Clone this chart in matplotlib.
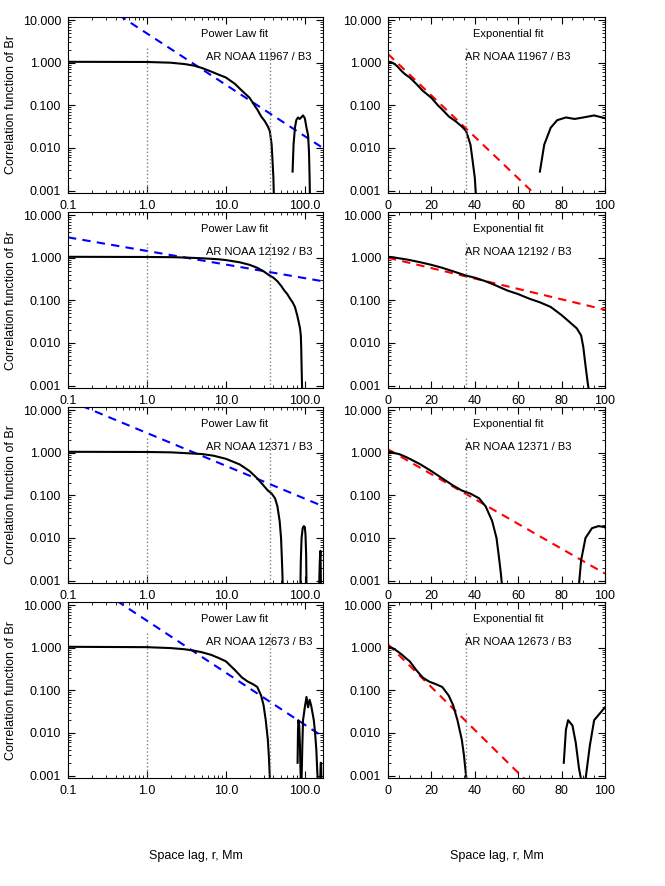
import numpy as np
import matplotlib
matplotlib.use("Agg")
from matplotlib import pyplot as plt
from matplotlib.ticker import FixedLocator, NullFormatter

# correlation function segments (r in Mm, C)
ar_names = ["11967", "12192", "12371", "12673"]

r1a = [0.1, 1, 2, 3, 4, 5, 6.5, 8, 10, 13, 16, 20, 23, 25, 28, 31, 34, 36, 38, 39, 40, 40.5]
c1a = [1.05, 1.04, 1.0, 0.93, 0.85, 0.75, 0.62, 0.53, 0.45, 0.32, 0.22, 0.15, 0.1, 0.08, 0.055, 0.043, 0.032, 0.025, 0.012, 0.005, 0.002, 0.0008]
r1b = [70, 72, 75, 78, 82, 86, 90, 95, 100, 105, 110, 113, 115, 116]
c1b = [0.0028, 0.012, 0.03, 0.045, 0.052, 0.048, 0.052, 0.058, 0.05, 0.03, 0.02, 0.008, 0.002, 0.0008]

r2a = [0.1, 1, 2, 3, 5, 8, 10, 15, 20, 25, 30, 36, 40, 45, 50, 55, 60, 65, 70, 75, 80, 84, 87, 89, 90, 91, 92, 92.5]
c2a = [1.05, 1.04, 1.03, 1.01, 0.97, 0.92, 0.88, 0.78, 0.68, 0.58, 0.48, 0.38, 0.34, 0.28, 0.22, 0.17, 0.14, 0.11, 0.09, 0.07, 0.045, 0.03, 0.022, 0.015, 0.008, 0.003, 0.0012, 0.0008]

r3a = [0.1, 1, 2, 3, 5, 7, 10, 15, 20, 25, 30, 34, 38, 42, 45, 48, 50, 51, 52, 52.5]
c3a = [1.05, 1.04, 1.02, 0.98, 0.93, 0.85, 0.72, 0.53, 0.37, 0.25, 0.17, 0.13, 0.11, 0.085, 0.055, 0.025, 0.01, 0.004, 0.0015, 0.0008]
r3b = [88, 89, 91, 94, 97, 100, 102, 104, 105]
c3b = [0.0008, 0.003, 0.01, 0.017, 0.019, 0.018, 0.012, 0.004, 0.0008]
r3c = [152, 155, 158, 160]
c3c = [0.0008, 0.003, 0.005, 0.0008]

r4a = [0.1, 1, 2, 3, 4, 5, 6.5, 8, 10, 13, 16, 19, 22, 25, 28, 30, 32, 34, 35, 35.8, 36.2]
c4a = [1.05, 1.03, 0.98, 0.92, 0.85, 0.78, 0.68, 0.58, 0.48, 0.3, 0.2, 0.16, 0.14, 0.12, 0.075, 0.045, 0.02, 0.007, 0.003, 0.0012, 0.0008]
r4b = [81, 82, 83, 85, 86.5, 88, 89]
c4b = [0.002, 0.012, 0.02, 0.015, 0.006, 0.0015, 0.0008]
r4c = [91, 93, 95, 100, 105, 110, 115, 120, 125, 130, 135, 140, 144, 146]
c4c = [0.0008, 0.005, 0.02, 0.04, 0.07, 0.04, 0.06, 0.045, 0.03, 0.02, 0.01, 0.004, 0.0012, 0.0008]
r4d = [157, 159, 161, 162]
c4d = [0.0008, 0.002, 0.002, 0.0008]

segments = [[(r1a, c1a), (r1b, c1b)],
            [(r2a, c2a)],
            [(r3a, c3a), (r3b, c3b), (r3c, c3c)],
            [(r4a, c4a), (r4b, c4b), (r4c, c4c), (r4d, c4d)]]

# fits: power law C = A * r**(-p), exponential C = B * exp(-r/L)
pow_A = [4.86, 1.44, 2.9, 4.3]
pow_p = [1.205, 0.319, 0.77, 1.22]
exp_B = [1.6, 1.0, 1.2, 1.2]
exp_L = [8.94, 35.6, 14.9, 8.65]

ytick_vals = [0.001, 0.01, 0.1, 1, 10]
ytick_labs = ["0.001", "0.010", "0.100", "1.000", "10.000"]

plt.rcParams["font.family"] = "Liberation Sans"
fig = plt.figure(figsize=(6.65, 8.86), dpi=100)
W, H = 665.0, 886.0
tops = [17, 212, 407, 602]
ph = 176


def style(ax):
    ax.set_yscale("log")
    ax.set_ylim(0.00088, 11.8)
    ax.set_yticks(ytick_vals)
    ax.set_yticklabels(ytick_labs, fontsize=9)
    ax.tick_params(which="both", direction="in", top=True, right=True, labelsize=9)
    ax.tick_params(which="major", length=5, pad=5)
    ax.tick_params(which="minor", length=2.5)
    ax.yaxis.set_minor_formatter(NullFormatter())


for i in range(4):
    y0 = 1 - (tops[i] + ph) / H
    axl = fig.add_axes([68 / W, y0, 255 / W, ph / H])
    axr = fig.add_axes([388 / W, y0, 217 / W, ph / H])

    style(axl)
    axl.set_xscale("log")
    axl.set_xlim(0.1, 170)
    axl.set_xticks([0.1, 1, 10, 100])
    axl.set_xticklabels(["0.1", "1.0", "10.0", "100.0"], fontsize=9)
    axl.xaxis.set_minor_formatter(NullFormatter())
    axl.set_ylabel("Correlation function of Br", fontsize=9)
    rr = np.logspace(-1, np.log10(170), 100)
    axl.plot(rr, pow_A[i] * rr ** (-pow_p[i]), "--", color="blue", lw=1.5, dashes=(4, 3))
    for r, c in segments[i]:
        axl.plot(r, c, color="black", lw=1.5)
    axl.plot([1, 1], [0.0009, 2.5], ":", color="gray", lw=1)
    axl.plot([36, 36], [0.0009, 2.5], ":", color="gray", lw=1)
    axl.text(4.8, 4.6, "Power Law fit", fontsize=8, va="center")
    axl.text(5.6, 1.35, "AR NOAA " + ar_names[i] + " / B3", fontsize=8, va="center")

    style(axr)
    axr.set_xlim(0, 100)
    axr.set_xticks([0, 20, 40, 60, 80, 100])
    axr.xaxis.set_minor_locator(FixedLocator(np.arange(0, 101, 5)))
    re = np.linspace(0, 100, 100)
    axr.plot(re, exp_B[i] * np.exp(-re / exp_L[i]), "--", color="red", lw=1.5, dashes=(4, 3))
    for r, c in segments[i]:
        axr.plot(r, c, color="black", lw=1.5)
    axr.plot([36, 36], [0.0009, 2.5], ":", color="gray", lw=1)
    axr.text(39, 4.6, "Exponential fit", fontsize=8, va="center")
    axr.text(35.5, 1.35, "AR NOAA " + ar_names[i] + " / B3", fontsize=8, va="center")

    if i == 3:
        axl.set_xlabel("Space lag, r, Mm", fontsize=9, labelpad=38)
        axr.set_xlabel("Space lag, r, Mm", fontsize=9, labelpad=38)

fig.savefig("out.png", dpi=100)
